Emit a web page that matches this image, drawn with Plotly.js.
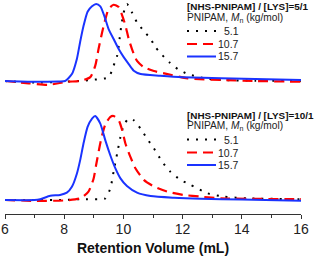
<!DOCTYPE html>
<html>
<head>
<meta charset="utf-8">
<script src="https://cdn.plot.ly/plotly-3.0.1.min.js"></script>
<style>html,body{margin:0;padding:0;background:#fff;}#chart{width:314px;height:258px;}</style>
</head>
<body>
<div id="chart"></div>
<script>
// ---------- data ----------
var seriesNames = ["5.1", "10.7", "15.7"];
var panelTitles = ["[NHS-PNIPAM] / [LYS]=5/1", "[NHS-PNIPAM] / [LYS]=10/1"];
var xTickVals = [6, 8, 10, 12, 14, 16];
var xTitle = "Retention Volume (mL)";
var legendSubtitle = "PNIPAM, <i>M</i><sub>n</sub> (kg/mol)";

// top panel: [NHS-PNIPAM]/[LYS] = 5/1
var top51_x = [6.0, 7.0, 8.0, 8.88, 9.50, 9.67, 9.79, 9.87, 9.93, 10.01, 10.12, 10.29, 10.46, 10.69, 10.92, 11.08, 11.28, 11.56, 11.84, 12.18, 12.75, 13.31, 14.44, 16.0];
var top51_y = [0.0, -0.02, -0.01, 0.013, 0.05, 0.2, 0.33, 0.545, 0.72, 0.89, 1.0, 0.89, 0.76, 0.65, 0.545, 0.44, 0.35, 0.24, 0.155, 0.09, 0.035, 0.013, 0.004, 0.004];
var top107_x = [6.0, 6.8, 7.46, 8.09, 8.54, 8.88, 9.05, 9.16, 9.28, 9.39, 9.50, 9.67, 9.84, 9.96, 10.07, 10.18, 10.29, 10.46, 10.69, 11.03, 11.49, 12.17, 13.32, 14.5, 16.0];
var top107_y = [0.0, -0.03, -0.05, -0.01, 0.0, 0.05, 0.2, 0.415, 0.63, 0.8, 0.935, 0.99, 0.96, 0.85, 0.72, 0.545, 0.415, 0.26, 0.18, 0.13, 0.09, 0.035, 0.013, 0.0, -0.009];
var top157_x = [6.0, 7.0, 7.8, 8.03, 8.26, 8.43, 8.54, 8.65, 8.79, 8.94, 9.08, 9.22, 9.36, 9.50, 9.67, 9.84, 10.01, 10.18, 10.35, 10.58, 11.25, 12.0, 13.3, 16.0];
var top157_y = [0.0, -0.01, -0.005, 0.0, 0.09, 0.29, 0.51, 0.71, 0.90, 0.97, 1.0, 0.97, 0.84, 0.675, 0.545, 0.415, 0.31, 0.22, 0.134, 0.09, 0.069, 0.05, 0.035, 0.013];

// bottom panel: [NHS-PNIPAM]/[LYS] = 10/1
var bot51_x = [6.0, 7.0, 8.0, 8.6, 9.2, 9.39, 9.56, 9.67, 9.79, 9.90, 10.01, 10.18, 10.35, 10.58, 10.80, 11.03, 11.31, 11.59, 11.93, 12.27, 12.84, 13.40, 14.19, 15.77, 16.0];
var bot51_y = [0.0, 0.0, 0.0, 0.01, 0.01, 0.02, 0.14, 0.34, 0.555, 0.75, 0.89, 0.97, 0.95, 0.85, 0.73, 0.615, 0.455, 0.335, 0.24, 0.18, 0.08, 0.04, 0.02, 0.01, 0.01];
var bot107_x = [6.0, 7.0, 8.0, 8.54, 8.82, 8.99, 9.08, 9.24, 9.39, 9.56, 9.67, 9.84, 9.96, 10.07, 10.24, 10.41, 10.69, 11.03, 11.48, 12.04, 12.61, 13.29, 15.76, 16.0];
var bot107_y = [0.0, -0.01, -0.005, 0.02, 0.1, 0.25, 0.42, 0.71, 0.9, 0.99, 1.0, 0.95, 0.83, 0.67, 0.51, 0.375, 0.24, 0.16, 0.1, 0.06, 0.04, 0.02, 0.01, 0.01];
var bot157_x = [6.0, 7.0, 7.19, 7.53, 7.86, 8.09, 8.26, 8.43, 8.54, 8.65, 8.79, 8.94, 9.05, 9.22, 9.39, 9.56, 9.73, 9.90, 10.12, 10.46, 10.92, 11.71, 12.61, 14.0, 16.0];
var bot157_y = [0.0, 0.0, 0.01, 0.05, 0.06, 0.087, 0.157, 0.316, 0.475, 0.67, 0.87, 0.97, 1.0, 0.91, 0.71, 0.53, 0.376, 0.257, 0.166, 0.087, 0.047, 0.027, 0.015, 0.005, -0.01];

// ---------- styles ----------
var styles = [
  {color: "#000000", width: 2, dash: "2px,7px"},
  {color: "#ff0000", width: 2.2, dash: "10px,6px"},
  {color: "#1a33ff", width: 2, dash: "solid"}
];
var W = 314, H = 258, ML = 5, MR = 13, MT = 0, MB = 44;
var PW = W - ML - MR, PH = H - MT - MB;
function px(x) { return (x - ML) / PW; }
function py(y) { return (PH + MT - y) / PH; }

var panels = [
  {xs: [top51_x, top107_x, top157_x], ys: [top51_y, top107_y, top157_y], yaxis: "y2", dy: 0},
  {xs: [bot51_x, bot107_x, bot157_x], ys: [bot51_y, bot107_y, bot157_y], yaxis: "y", dy: 108.5}
];

var traces = [];
var shapes = [];
var annotations = [];
panels.forEach(function (p, pi) {
  for (var i = 0; i < 3; i++) {
    traces.push({
      type: "scatter", mode: "lines",
      x: p.xs[i], y: p.ys[i], yaxis: p.yaxis,
      line: {color: styles[i].color, width: styles[i].width, dash: styles[i].dash, shape: "spline", smoothing: 0.6},
      showlegend: false, hoverinfo: "skip"
    });
    var rowY = [31, 44, 56.5][i] + p.dy;
    shapes.push({type: "line", xref: "paper", yref: "paper",
      x0: px(187), x1: px(216), y0: py(rowY), y1: py(rowY),
      line: {color: styles[i].color, width: styles[i].width, dash: styles[i].dash}});
    annotations.push({xref: "paper", yref: "paper", x: px(241), y: py(rowY),
      xanchor: "right", yanchor: "middle", showarrow: false, text: seriesNames[i],
      font: {family: "Liberation Sans, Arial, sans-serif", size: 10.5, color: "#222"}});
  }
  annotations.push({xref: "paper", yref: "paper", x: px(185), y: py(6.5 + p.dy),
    xanchor: "left", yanchor: "middle", showarrow: false, text: "<b>" + panelTitles[pi] + "</b>",
    font: {family: "Liberation Sans, Arial, sans-serif", size: 9.9, color: "#111"}});
  annotations.push({xref: "paper", yref: "paper", x: px(185), y: py(18 + p.dy),
    xanchor: "left", yanchor: "middle", showarrow: false, text: legendSubtitle,
    font: {family: "Liberation Sans, Arial, sans-serif", size: 10.2, color: "#222"}});
});

var layout = {
  width: W, height: H,
  margin: {l: ML, r: MR, t: MT, b: MB, pad: 0},
  paper_bgcolor: "#fff", plot_bgcolor: "#fff",
  showlegend: false,
  font: {family: "Liberation Sans, Arial, sans-serif", color: "#222"},
  xaxis: {
    range: [6, 16], anchor: "y", showgrid: false, zeroline: false,
    showline: true, linecolor: "#333", linewidth: 1,
    ticks: "outside", ticklen: 4, tickwidth: 1, tickcolor: "#333",
    tickvals: xTickVals, ticktext: xTickVals.map(String),
    tickfont: {size: 14, color: "#222"},
    ticklabelstandoff: -2,
    minor: {dtick: 1, ticks: "outside", ticklen: 2.5, tickcolor: "#333", tickwidth: 1, showgrid: false},
    title: {text: "<b>" + xTitle + "</b>", font: {size: 14, color: "#111"}, standoff: 7}
  },
  yaxis: {domain: [0, 0.5], range: [-14 / 84, 93 / 84], visible: false, fixedrange: true},
  yaxis2: {domain: [0.5, 1], range: [-26 / 77, 81 / 77], visible: false, fixedrange: true},
  shapes: shapes,
  annotations: annotations
};

Plotly.newPlot("chart", traces, layout, {displayModeBar: false, staticPlot: true});
</script>
</body>
</html>
